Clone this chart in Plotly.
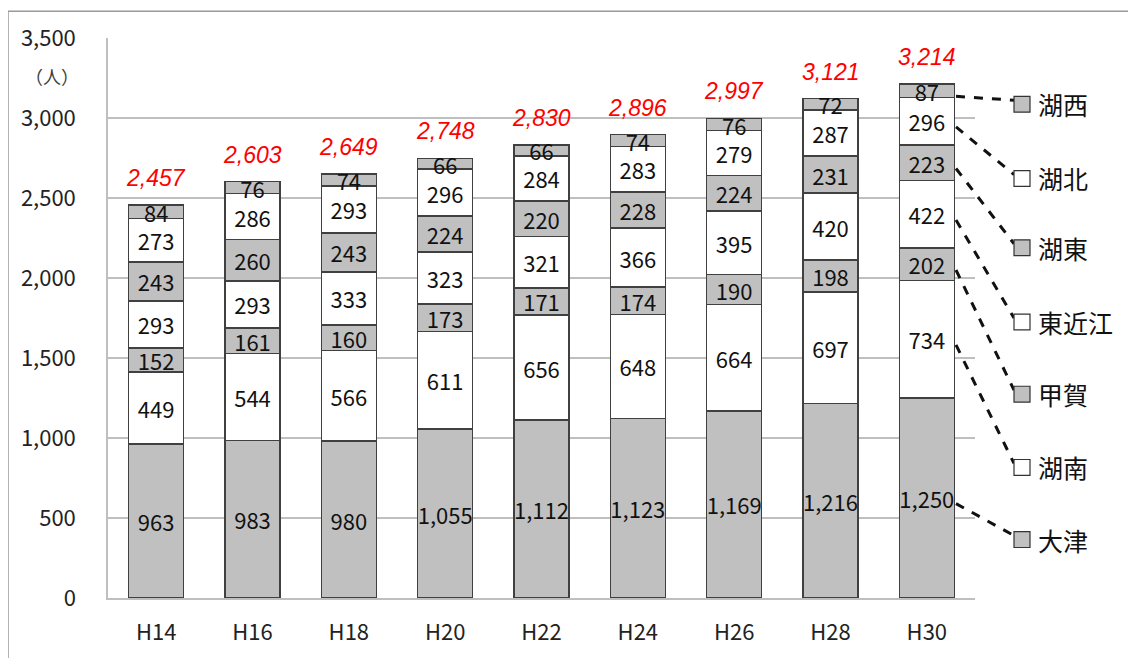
import plotly.graph_objects as go

years = ["H14", "H16", "H18", "H20", "H22", "H24", "H26", "H28", "H30"]
otsu = [963, 983, 980, 1055, 1112, 1123, 1169, 1216, 1250]
konan = [449, 544, 566, 611, 656, 648, 664, 697, 734]
koka = [152, 161, 160, 173, 171, 174, 190, 198, 202]
higashiomi = [293, 293, 333, 323, 321, 366, 395, 420, 422]
koto = [243, 260, 243, 224, 220, 228, 224, 231, 223]
kohoku = [273, 286, 293, 296, 284, 283, 279, 287, 296]
kosei = [84, 76, 74, 66, 66, 74, 76, 72, 87]
totals = [2457, 2603, 2649, 2748, 2830, 2896, 2997, 3121, 3214]

series_names = ["大津", "湖南", "甲賀", "東近江", "湖東", "湖北", "湖西"]
series_vals = [otsu, konan, koka, higashiomi, koto, kohoku, kosei]
series_fill = ["#c0c0c0", "#ffffff", "#c0c0c0", "#ffffff", "#c0c0c0", "#ffffff", "#c0c0c0"]

# legend item vertical positions (in y-axis units, layout only)
legend_y = [365, 816, 1274, 1725, 2189, 2622, 3086]

FONT = "Noto Sans CJK JP"
YMAX = 3500
PW = 867.0   # plot area width in px
PH = 566.0   # plot area height in px
L0 = 108.0   # plot-area left edge in page px
B0 = 602.0   # plot-area bottom edge in page px


def px(xp):
    return (xp - L0) / PW


def py(yp):
    return (B0 - yp) / PH


fig = go.Figure()
for name, vals, col in zip(series_names, series_vals, series_fill):
    fig.add_trace(go.Bar(
        x=years, y=vals, name=name,
        marker=dict(color=col, line=dict(color="#404040", width=1.5)),
        text=[f"{v:,}" for v in vals],
        textposition="inside", insidetextanchor="middle",
        constraintext="none", textangle=0,
        textfont=dict(family=FONT, size=22, color="#111111"),
        cliponaxis=False,
        showlegend=False,
    ))

annotations = []
for x, t in zip(years, totals):
    annotations.append(dict(
        x=x, y=t, xref="x", yref="y", text=f"<i>{t:,}</i>", showarrow=False,
        yshift=27, font=dict(family="Liberation Sans", size=23, color="#ff0000"),
    ))

annotations.append(dict(
    x=px(52), y=py(74), xref="paper", yref="paper", text="（人）", showarrow=False,
    xanchor="center", yanchor="middle",
    font=dict(family=FONT, size=18, color="#404040"),
))

shapes = []
x_start = px(956)
x_end = px(1014)
sq_x0 = px(1014)
sq_x1 = px(1030)
half_sq = 8 / PH * YMAX
cum = 0
for name, vals, col, ly in zip(series_names, series_vals, series_fill, legend_y):
    v = vals[-1]
    mid = cum + v / 2 - 35
    cum += v
    shapes.append(dict(type="line", xref="paper", yref="y",
                       x0=x_start, y0=mid, x1=x_end, y1=ly + 25,
                       line=dict(color="#111111", width=3, dash="dash")))
    shapes.append(dict(type="rect", xref="paper", yref="y",
                       x0=sq_x0, x1=sq_x1, y0=ly - half_sq, y1=ly + half_sq,
                       fillcolor=col, line=dict(color="#333333", width=1.2)))
    annotations.append(dict(
        x=px(1036), y=ly, xref="paper", yref="y", text=name,
        showarrow=False, xanchor="left", yanchor="middle",
        font=dict(family=FONT, size=25, color="#111111"),
    ))

# outer frame
shapes.append(dict(type="rect", xref="paper", yref="paper",
                   x0=px(8), x1=px(1160), y0=py(680), y1=py(9),
                   line=dict(color="#9a9a9a", width=1.5), fillcolor="rgba(0,0,0,0)",
                   layer="below"))

fig.update_layout(
    width=1128, height=650,
    margin=dict(l=100, r=161, t=28, b=56),
    paper_bgcolor="white", plot_bgcolor="white",
    barmode="stack", bargap=0.43,
    annotations=annotations, shapes=shapes,
    font=dict(family=FONT, color="#222222"),
)
fig.update_xaxes(
    type="category", showgrid=False, showline=True, linecolor="#bfbfbf", linewidth=1.5,
    ticks="", tickfont=dict(family=FONT, size=22, color="#222222"),
    ticklabelstandoff=14,
)
fig.update_yaxes(
    range=[0, YMAX], dtick=500, tickformat=",", showgrid=True,
    gridcolor="#bfbfbf", gridwidth=1.5, showline=True, linecolor="#bfbfbf", linewidth=1.5,
    zeroline=False, ticks="", tickfont=dict(family=FONT, size=22, color="#222222"),
    ticklabelstandoff=26,
)

fig.write_html("out.html")
